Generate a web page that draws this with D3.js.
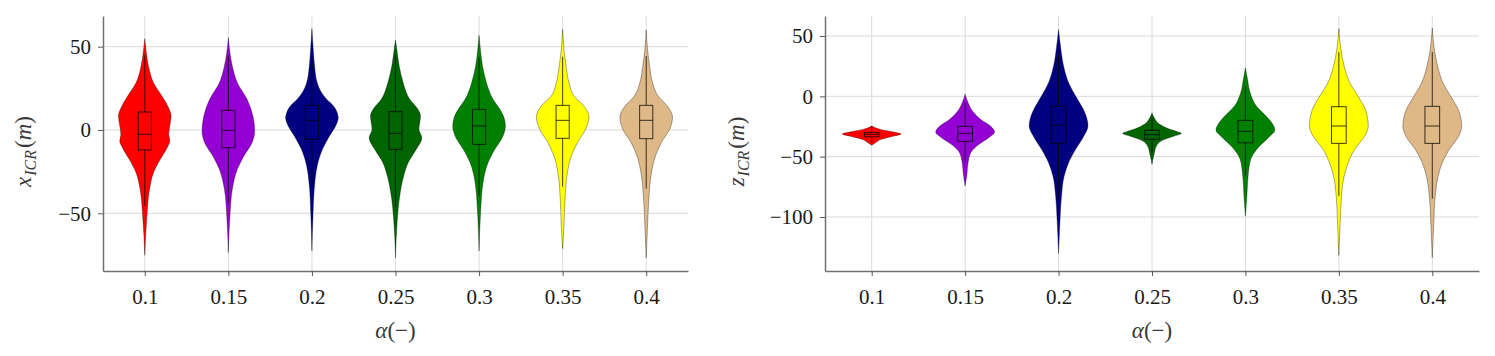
<!DOCTYPE html>
<html><head><meta charset="utf-8">
<script src="https://cdn.jsdelivr.net/npm/d3@7"></script>
<style>
body{margin:0;background:#fff}
svg{display:block}
</style>
</head><body>
<svg id="c" width="1495" height="356"></svg>
<script>
// ---------- data ----------
const categories = ["0.1","0.15","0.2","0.25","0.3","0.35","0.4"];
const colors = ["#ff0000","#9400d3","#000080","#006400","#008000","#ffff00","#deb887"];
const xIcrTicks = [-50, 0, 50];
const zIcrTicks = [-100, -50, 0, 50];

// violin outlines for x_ICR: [value, relative half-width]
const xIcr01 = [[54.8,0],[46.4,0.06],[38.4,0.14],[28.4,0.33],[20.4,0.65],[14.4,0.87],[8.4,1.0],[2.4,0.95],[-2.6,0.91],[-6.6,0.95],[-10.6,0.85],[-17.6,0.59],[-25.6,0.33],[-35.6,0.18],[-51.6,0.08],[-75.2,0]];
const xIcr015 = [[55.4,0],[46.4,0.06],[38.4,0.15],[28.4,0.34],[18.4,0.71],[8.4,0.93],[-0.6,1.0],[-7.6,0.9],[-15.6,0.59],[-23.6,0.34],[-35.6,0.15],[-51.6,0.06],[-73.6,0]];
const xIcr02 = [[60.8,0],[48.4,0.05],[38.4,0.10],[28.4,0.2],[22.4,0.37],[18.4,0.56],[14.4,0.82],[10.4,0.96],[7.4,1.0],[2.4,0.9],[-3.6,0.67],[-11.6,0.4],[-21.6,0.2],[-31.6,0.11],[-51.6,0.04],[-72.6,0]];
const xIcr025 = [[54,0],[48.4,0.05],[38.4,0.14],[28.4,0.29],[18.4,0.54],[12.4,0.85],[8.4,0.95],[0.4,0.89],[-4.6,1.0],[-11.6,0.79],[-19.6,0.48],[-27.6,0.31],[-39.6,0.16],[-55.6,0.06],[-76.6,0]];
const xIcr03 = [[56.8,0],[48.4,0.05],[38.4,0.13],[28.4,0.28],[18.4,0.53],[12.4,0.79],[7.4,0.95],[2.4,1.0],[-3.6,0.91],[-11.6,0.6],[-19.6,0.34],[-31.6,0.15],[-51.6,0.05],[-72.6,0]];
const xIcr035 = [[60.4,0],[48.4,0.05],[38.4,0.13],[28.4,0.24],[20.4,0.43],[14.4,0.81],[7.8,1.0],[0.4,0.87],[-7.6,0.56],[-15.6,0.33],[-25.6,0.18],[-41.6,0.09],[-57.6,0.05],[-71.2,0]];
const xIcr04 = [[60,0],[48.4,0.05],[38.4,0.13],[28.4,0.24],[20.4,0.45],[14.4,0.8],[7.8,1.0],[0.4,0.89],[-7.6,0.57],[-15.6,0.35],[-25.6,0.2],[-41.6,0.1],[-57.6,0.05],[-76.6,0]];
const xIcrQ3 = [10.8, 11.8, 14.8, 11, 12.4, 14.8, 14.8];
const xIcrMedian = [-2.6, -0.2, 5.8, -2, 2.4, 5.8, 5.8];
const xIcrQ1 = [-12, -10.6, -5.6, -11.6, -8.6, -5, -5.2];
const xIcrWhiskerHigh = [45, 45, 44.4, 45, 43.4, 44, 44.4];
const xIcrWhiskerLow = [-45.6, -43.6, -34.6, -45.6, -39.6, -34, -35.2];

// violin outlines for z_ICR
const zIcr01 = [[-24.6,0],[-27.4,0.3],[-29.6,0.75],[-31.2,1.0],[-33.5,0.65],[-35.6,0.33],[-38.5,0.13],[-40.6,0]];
const zIcr015 = [[1.7,0],[-5.3,0.1],[-12.2,0.25],[-19.1,0.53],[-24.6,0.86],[-29.6,1.0],[-34.3,0.8],[-39.8,0.47],[-46.7,0.19],[-55,0.1],[-64.6,0.06],[-74.3,0]];
const zIcr02 = [[55.5,0],[38.9,0.08],[25.1,0.17],[11.3,0.34],[0.2,0.58],[-10.8,0.84],[-19.1,0.97],[-24.6,1.0],[-32.9,0.86],[-43.9,0.58],[-55,0.34],[-66.1,0.19],[-82.6,0.1],[-104.8,0.045],[-130.1,0]];
const zIcr025 = [[-13.6,0],[-19.1,0.11],[-23.2,0.26],[-26.8,0.56],[-29.3,0.87],[-30.7,1.0],[-32.9,0.76],[-36.2,0.37],[-41.2,0.15],[-48.1,0.07],[-56.4,0]];
const zIcr03 = [[23.7,0],[14.1,0.07],[3,0.16],[-8,0.37],[-16.3,0.7],[-23.2,0.93],[-27.9,1.0],[-34.3,0.78],[-42.6,0.43],[-52.2,0.18],[-66.1,0.09],[-82.6,0.05],[-99.2,0]];
const zIcr035 = [[56,0],[38.9,0.07],[25.1,0.18],[11.3,0.37],[0.2,0.65],[-10.8,0.9],[-19.1,0.98],[-24.6,1.0],[-32.9,0.88],[-43.9,0.54],[-55,0.32],[-66.1,0.18],[-82.6,0.09],[-104.8,0.045],[-131.8,0]];
const zIcr04 = [[56.6,0],[38.9,0.07],[25.1,0.18],[11.3,0.36],[0.2,0.62],[-10.8,0.88],[-19.1,0.98],[-24.6,1.0],[-32.9,0.9],[-43.9,0.58],[-55,0.34],[-66.1,0.2],[-82.6,0.1],[-104.8,0.05],[-133.8,0]];
const zIcrQ3 = [-29.9, -24.9, -8.3, -28.2, -19.9, -8.6, -8.3];
const zIcrMedian = [-31.5, -30.7, -24, -31.8, -29, -24.6, -24.6];
const zIcrQ1 = [-33.5, -37.3, -39, -35.6, -38.5, -39, -39];
const zIcrWhiskerHigh = [-25, -5.8, 37, -17.7, 8, 36.7, 36.7];
const zIcrWhiskerLow = [-38.9, -54.2, -85, -46.7, -65.5, -82.6, -84.9];

// ---------- drawing ----------
const FONT = "'Liberation Serif', 'Times New Roman', serif";
const svg = d3.select("#c");

function drawPanel(cfg) {
  const g = svg.append("g");
  const x = d3.scalePoint().domain(categories).range([cfg.left, cfg.right]).padding(0.5);
  const y = d3.scaleLinear().domain(cfg.domain).range([cfg.bottom, cfg.top]);
  const step = x.step();
  const halfW = step * 0.315;
  const boxHalf = halfW * 0.25;

  // grid
  g.append("g").selectAll("line").data(cfg.ticks).join("line")
    .attr("x1", cfg.left).attr("x2", cfg.right)
    .attr("y1", d => y(d)).attr("y2", d => y(d))
    .attr("stroke", "#dadada").attr("stroke-width", 1);
  g.append("g").selectAll("line").data(categories).join("line")
    .attr("x1", d => x(d)).attr("x2", d => x(d))
    .attr("y1", cfg.top).attr("y2", cfg.bottom)
    .attr("stroke", "#dadada").attr("stroke-width", 1);

  // violins
  categories.forEach((c, i) => {
    const cx = x(c);
    const prof = cfg.profiles[i];
    const area = d3.area()
      .y(d => y(d[0]))
      .x0(d => cx - d[1] * halfW)
      .x1(d => cx + d[1] * halfW)
      .curve(d3.curveMonotoneY);
    g.append("path").attr("d", area(prof))
      .attr("fill", colors[i])
      .attr("stroke", "rgba(0,0,0,0.55)").attr("stroke-width", 0.6);
    g.append("line")
      .attr("x1", cx).attr("x2", cx)
      .attr("y1", y(cfg.wHi[i])).attr("y2", y(cfg.wLo[i]))
      .attr("stroke", "rgba(0,0,0,0.75)").attr("stroke-width", 1);
    g.append("rect")
      .attr("x", cx - boxHalf).attr("width", boxHalf * 2)
      .attr("y", y(cfg.q3[i])).attr("height", y(cfg.q1[i]) - y(cfg.q3[i]))
      .attr("fill", colors[i])
      .attr("stroke", "rgba(0,0,0,0.75)").attr("stroke-width", 1);
    g.append("line")
      .attr("x1", cx - boxHalf).attr("x2", cx + boxHalf)
      .attr("y1", y(cfg.med[i])).attr("y2", y(cfg.med[i]))
      .attr("stroke", "rgba(0,0,0,0.75)").attr("stroke-width", 1);
  });

  // axes
  const xa = g.append("g").attr("transform", `translate(0,${cfg.bottom})`)
    .call(d3.axisBottom(x).tickSize(5).tickSizeOuter(0).tickPadding(13));
  const ya = g.append("g").attr("transform", `translate(${cfg.left},0)`)
    .call(d3.axisLeft(y).tickValues(cfg.ticks).tickSize(5).tickSizeOuter(0).tickPadding(7)
      .tickFormat(d3.format("d")));
  [xa, ya].forEach(a => {
    a.attr("font-family", null).attr("font-size", null);
    a.select(".domain").attr("stroke", "#707070").attr("stroke-width", 1.5);
    a.selectAll(".tick line").attr("stroke", "#555");
    a.selectAll(".tick text").style("font-family", FONT).style("font-size", "21px")
      .attr("fill", "#1a1a1a");
  });

  // x title
  const xt = g.append("text").attr("x", (cfg.left + cfg.right) / 2).attr("y", 338)
    .attr("text-anchor", "middle").style("font-family", FONT).style("font-size", "23px")
    .attr("fill", "#3a3a3a");
  xt.append("tspan").style("font-style", "italic").text("α");
  xt.append("tspan").text("(−)");

  // y title
  const yt = g.append("text")
    .attr("transform", `translate(${cfg.titleX},${(cfg.top + cfg.bottom) / 2 + 8}) rotate(-90)`)
    .attr("text-anchor", "middle").style("font-family", FONT).style("font-size", "23px")
    .attr("fill", "#3a3a3a");
  yt.append("tspan").style("font-style", "italic").text(cfg.titleVar);
  yt.append("tspan").style("font-style", "italic").style("font-size", "16px").attr("dy", 5).attr("dx", 1).text("ICR");
  yt.append("tspan").attr("dy", -5).attr("dx", 2).text("(");
  yt.append("tspan").style("font-style", "italic").text("m");
  yt.append("tspan").text(")");
}

drawPanel({
  left: 103, right: 688, top: 16, bottom: 271,
  domain: [-84.6, 68.4], ticks: xIcrTicks,
  profiles: [xIcr01, xIcr015, xIcr02, xIcr025, xIcr03, xIcr035, xIcr04],
  q1: xIcrQ1, med: xIcrMedian, q3: xIcrQ3, wLo: xIcrWhiskerLow, wHi: xIcrWhiskerHigh,
  titleVar: "x", titleX: 31
});
drawPanel({
  left: 825, right: 1479, top: 16, bottom: 271,
  domain: [-144.8, 66.6], ticks: zIcrTicks,
  profiles: [zIcr01, zIcr015, zIcr02, zIcr025, zIcr03, zIcr035, zIcr04],
  q1: zIcrQ1, med: zIcrMedian, q3: zIcrQ3, wLo: zIcrWhiskerLow, wHi: zIcrWhiskerHigh,
  titleVar: "z", titleX: 744
});
</script>
</body></html>
